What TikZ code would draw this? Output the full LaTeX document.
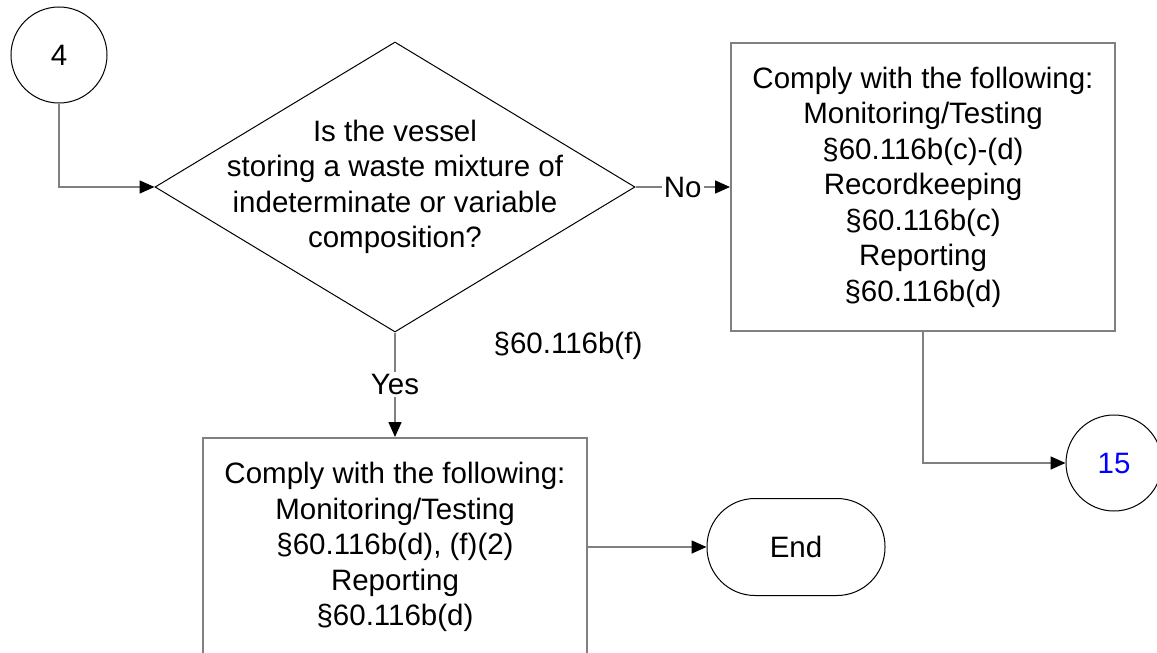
\documentclass[tikz,border=0pt]{standalone}
\usepackage{fontspec}
\setmainfont{Liberation Sans}
\usetikzlibrary{arrows.meta,shapes.geometric}
\definecolor{linegray}{RGB}{128,128,128}
\definecolor{numblue}{RGB}{0,0,255}
\tikzset{
  x=1pt,y=-1pt,
  every node/.style={font=\fontsize{29.5}{35.5}\selectfont},
  conn/.style={draw=linegray,line width=1.6pt,-{Triangle[length=15pt,width=13pt,fill=black,color=black]}},
  offpage/.style={circle,draw=black,line width=1pt,minimum size=96pt,inner sep=0pt},
  actbox/.style={rectangle,draw=linegray,line width=2pt,align=center,inner sep=0pt},
  decision/.style={diamond,draw=black,line width=1pt,minimum width=480pt,minimum height=290pt,inner sep=0pt},
  terminal/.style={rectangle,rounded corners=48pt,draw=black,line width=1pt,minimum width=178pt,minimum height=97pt},
  lbl/.style={fill=white,inner sep=2pt}
}
\begin{document}
\begin{tikzpicture}
\useasboundingbox (0,0) rectangle (1157,653);
\clip (0,0) rectangle (1157,653);
\node[offpage] (c4) at (59,55) {4};
\node[decision] (dia) at (395,187) {};
\node[align=center] (diatext) at (395,187) {Is the vessel\\storing a waste mixture of\\indeterminate or variable\\composition?};
\node[actbox,minimum width=384pt,minimum height=288pt] (box1) at (923,187) {Comply with the following:\\Monitoring/Testing\\§60.116b(c)-(d)\\Recordkeeping\\§60.116b(c)\\Reporting\\§60.116b(d)};
\node[offpage,text=numblue] (c15) at (1114,463) {15};
\node (ref) at (568,346) {§60.116b(f)};
\node[actbox,minimum width=384pt,minimum height=218pt] (box2) at (395,547) {Comply with the following:\\Monitoring/Testing\\§60.116b(d), (f)(2)\\Reporting\\§60.116b(d)};
\node[terminal] (end) at (796,547) {End};
\draw[conn] (c4.south) |- (dia.west);
\draw[conn] (dia.east) -- node[lbl] (no) {No} (box1.west);
\draw[conn] (dia.south) -- node[lbl] (yes) {Yes} (box2.north);
\draw[conn] (box1.south) |- (c15.west);
\draw[conn] (box2.east) -- (end.west);
\end{tikzpicture}
\end{document}
